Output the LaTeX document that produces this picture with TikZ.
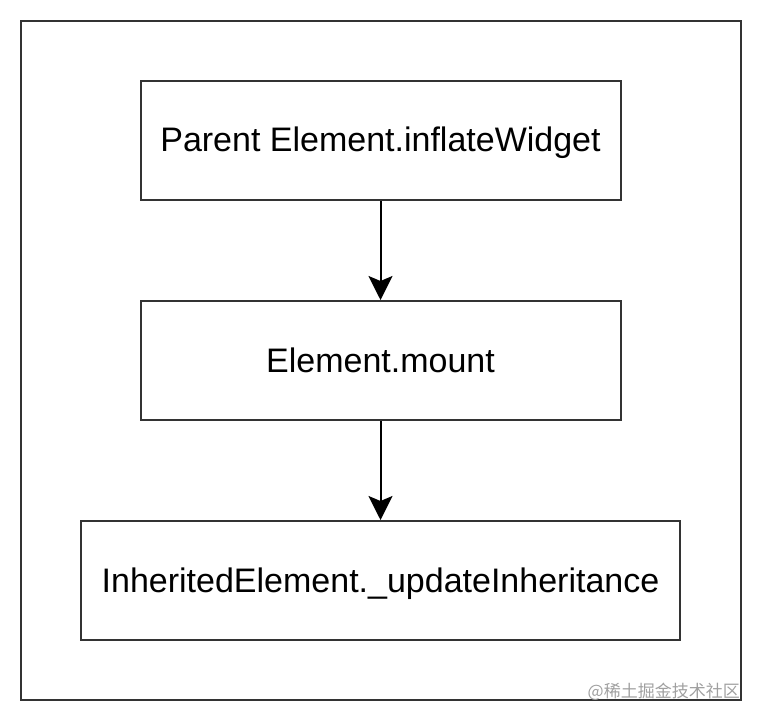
\documentclass[tikz,border=0pt]{standalone}
\usepackage{fontspec}
\setmainfont{Liberation Sans}
\newfontfamily\cjk{Noto Sans CJK SC}
\usetikzlibrary{arrows.meta}
\definecolor{linegray}{HTML}{333333}
\definecolor{wmgray}{HTML}{A0A0A0}
\begin{document}
\begin{tikzpicture}[x=1pt,y=-1pt,
  box/.style={draw=linegray,line width=2pt,fill=white,inner sep=0pt,
    font=\fontsize{34}{36}\selectfont,text=black,text height=23pt,text depth=0pt},
  flow/.style={draw=black,line width=2pt,-{Stealth[length=24pt,width=24pt,inset=5pt]}}]
\useasboundingbox (0,0) rectangle (762,722);
\node[draw=linegray,line width=2pt,minimum width=720pt,minimum height=679pt,inner sep=0pt] (frame) at (381,360.5) {};
\node[box,minimum width=480pt,minimum height=119pt] (a) at (380.5,140.5) {Parent Element.inflateWidget};
\node[box,minimum width=480pt,minimum height=119pt] (b) at (380.5,360.5) {Element.mount};
\node[box,minimum width=599pt,minimum height=119pt] (c) at (380.5,580.5) {InheritedElement.\_updateInheritance};
\draw[flow] (a.south) -- (b.north);
\draw[flow] (b.south) -- (c.north);
\node[anchor=south east,inner sep=0pt,text=wmgray,font=\cjk\fontsize{17}{17}\selectfont] (wm) at (740,701) {@稀土掘金技术社区};
\end{tikzpicture}
\end{document}
